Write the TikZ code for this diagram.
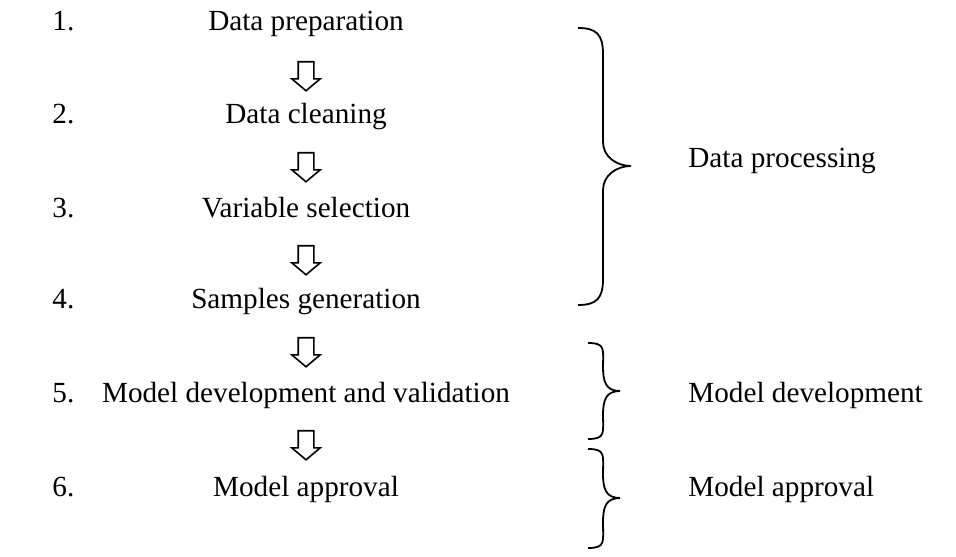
\documentclass[tikz,border=0pt]{standalone}
\usepackage{fontspec}
\setmainfont{Liberation Serif}
\usetikzlibrary{shapes.arrows}

\tikzset{
  stage/.style={anchor=base, inner sep=0pt, font=\fontsize{14.6}{17}\selectfont},
  num/.style={stage, anchor=base west},
  phase/.style={stage, anchor=base west},
  downarrow/.style={single arrow, draw, line width=0.8pt, shape border rotate=270,
    minimum height=14.5pt, inner sep=3.5pt, single arrow head extend=3.2pt,
    single arrow tip angle=100},
  bracepath/.style={line width=0.9pt}
}

% right curly brace: top y, tip y, bottom y, left x, tip x (vertical at x=603)
\newcommand{\drawbrace}[5]{%
  \draw[bracepath] (#4,#1) .. controls ({#4+18},#1) and (603,{#1+6}) .. (603,{#1+26})
    -- (603,{#2-24}) .. controls (603,{#2-9}) and ({#5-14},#2) .. (#5,#2)
    .. controls ({#5-14},#2) and (603,{#2+9}) .. (603,{#2+24})
    -- (603,{#3-26}) .. controls (603,{#3-6}) and ({#4+18},#3) .. (#4,#3);}

\begin{document}
\begin{tikzpicture}[x=0.5pt,y=-0.5pt]
\useasboundingbox (0,0) rectangle (956,556);

% numbers
\node[num] (n1) at (52,31) {1.};
\node[num] (n2) at (52,123) {2.};
\node[num] (n3) at (52,217) {3.};
\node[num] (n4) at (52,308) {4.};
\node[num] (n5) at (52,402) {5.};
\node[num] (n6) at (52,496) {6.};

% stages
\node[stage] (s1) at (306,31) {Data preparation};
\node[stage] (s2) at (306,123) {Data cleaning};
\node[stage] (s3) at (306,217) {Variable selection};
\node[stage] (s4) at (306,308) {Samples generation};
\node[stage] (s5) at (306,402) {Model development and validation};
\node[stage] (s6) at (306,496) {Model approval};

% arrows
\node[downarrow] (a1) at (306,73) {};
\node[downarrow] (a2) at (306,164) {};
\node[downarrow] (a3) at (306,257) {};
\node[downarrow] (a4) at (306,349) {};
\node[downarrow] (a5) at (306,442) {};

% braces
\drawbrace{28}{166}{305}{578}{631}
\drawbrace{343}{391}{439}{588}{620}
\drawbrace{449}{498}{548}{588}{620}

% phases
\node[phase] (p1) at (688,167) {Data processing};
\node[phase] (p2) at (688,402) {Model development};
\node[phase] (p3) at (688,496) {Model approval};
\end{tikzpicture}
\end{document}
